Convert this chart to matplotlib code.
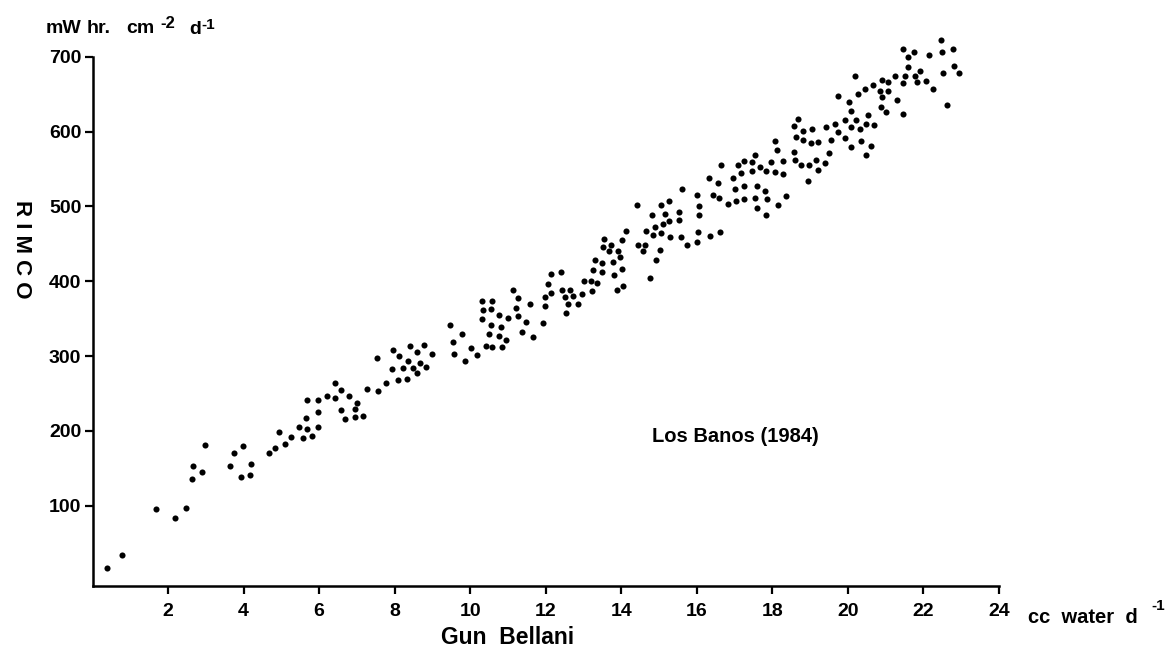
import matplotlib
matplotlib.use("Agg")
import matplotlib.pyplot as plt

plt.rcParams['font.family'] = ['Liberation Sans', 'DejaVu Sans']

# Gun Bellani readings (cc water per day)
gun_bellani = [
    0.38, 0.78, 1.67, 2.18, 2.47, 2.64, 2.66, 2.90, 2.97, 3.63, 3.74, 3.92, 3.99, 4.18, 4.20,
    4.66, 4.84, 4.95, 5.10, 5.25, 5.47, 5.57, 5.66, 5.69, 5.80, 5.97, 5.98, 5.69, 5.96,
    6.20, 6.41, 6.41, 6.58, 6.80, 6.99, 6.59, 6.94, 6.69, 6.96, 7.16, 7.28, 7.56, 7.53, 7.78,
    7.95, 8.12, 7.93, 8.08, 8.21, 8.33, 8.41, 8.36, 8.48, 8.60, 8.66, 8.60, 8.78, 8.83, 8.98,
    9.47, 9.78, 9.55, 9.56, 10.02, 9.85, 10.17, 10.31, 10.57, 10.35, 10.56, 10.32, 10.75, 10.55,
    10.82, 10.49, 10.75, 10.94, 10.41, 10.59, 10.85, 11.01, 11.12, 11.26, 11.20, 11.27, 11.57,
    11.47, 11.38, 11.66, 11.92, 11.99, 11.99, 12.06, 12.15, 12.15, 12.40, 12.44, 12.63, 12.51,
    12.72, 12.59, 12.53, 12.86,
    12.95, 13.02, 13.22, 13.21, 13.26, 13.36, 13.31, 13.48, 13.50, 13.55, 13.52, 13.68, 13.74,
    13.78, 13.80, 13.91, 13.96, 14.01, 13.88, 14.05, 14.03, 14.12, 14.41, 14.43, 14.57, 14.64,
    14.65, 14.77, 14.80, 14.90, 14.92, 14.84, 15.02, 15.05, 15.06, 15.10, 15.15, 15.25, 15.27,
    15.30, 15.52, 15.53, 15.57, 15.60, 15.74, 16.00, 16.05, 16.06, 16.03, 16.01, 16.34, 16.33,
    16.44, 16.57, 16.60, 16.62, 16.64, 16.82, 16.96, 17.02, 17.05, 17.08, 17.17, 17.24, 17.25,
    17.25, 17.47, 17.47, 17.55, 17.60, 17.55, 17.60, 17.67, 17.80, 17.84, 17.87, 17.84, 17.97,
    18.07, 18.12, 18.14, 18.27, 18.27, 18.35, 18.58, 18.59, 18.77, 18.93, 18.97,
    18.06, 18.58, 18.67, 18.62, 18.80, 18.80, 19.01, 19.06, 19.21, 19.16, 19.20, 19.40, 19.49,
    19.43, 19.56, 19.66, 19.74, 19.75, 19.92, 19.92, 20.08, 20.07, 20.03, 20.08, 20.21, 20.18,
    20.31, 20.28, 20.34, 20.44, 20.47, 20.54, 20.60, 20.47, 20.69, 20.66, 20.84, 20.91, 20.89,
    20.87, 21.02, 21.06, 21.07, 21.24, 21.31, 21.46, 21.46, 21.50, 21.47, 21.59, 21.60, 21.76,
    21.77, 21.83, 21.90, 22.08, 22.15, 22.25, 22.47, 22.48, 22.52, 22.63, 22.79, 22.80, 22.94,
]

# RIMCO readings (mW hr cm-2 d-1)
rimco = [
    17, 34, 95, 84, 97, 136, 153, 145, 181, 153, 170, 139, 180, 141, 156,
    171, 177, 198, 182, 192, 205, 190, 217, 203, 193, 205, 225, 241, 241,
    247, 264, 244, 255, 247, 237, 228, 229, 216, 219, 220, 256, 253, 297, 264,
    308, 300, 283, 268, 284, 269, 313, 293, 284, 306, 291, 278, 315, 285, 303,
    342, 329, 319, 303, 311, 293, 302, 373, 374, 361, 363, 350, 355, 341,
    339, 330, 327, 322, 314, 312, 312, 351, 388, 377, 364, 353, 370,
    345, 332, 326, 344, 367, 379, 396, 410, 384, 412, 388, 389, 379,
    380, 369, 358, 369,
    383, 401, 387, 400, 415, 398, 428, 412, 424, 456, 446, 440, 449,
    426, 408, 441, 433, 417, 389, 394, 455, 467, 502, 449, 440, 448,
    467, 405, 489, 472, 428, 462, 442, 502, 465, 476, 490, 481, 507,
    459, 492, 482, 459, 523, 449, 516, 501, 488, 466, 453, 460, 538,
    516, 531, 512, 466, 555, 503, 538, 523, 507, 555, 545, 510, 527,
    561, 559, 548, 569, 527, 512, 498, 553, 521, 547, 510, 488, 560,
    546, 575, 502, 561, 543, 514, 573, 562, 556, 534, 556,
    587, 607, 617, 593, 601, 589, 585, 604, 586, 562, 549, 558, 572,
    606, 589, 610, 648, 599, 591, 616, 606, 580, 640, 628, 615, 675,
    603, 650, 587, 657, 610, 622, 581, 569, 609, 662, 655, 646, 669,
    633, 626, 655, 667, 675, 643, 623, 711, 675, 665, 700, 686, 707,
    675, 666, 681, 668, 703, 657, 723, 706, 679, 636, 710, 688, 678,
]

x_ticks = [2, 4, 6, 8, 10, 12, 14, 16, 18, 20, 22, 24]
y_ticks = [100, 200, 300, 400, 500, 600, 700]
x_label = "Gun  Bellani"
x_unit = "cc  water  d"
y_label = "R I M C O"
site_label = "Los Banos (1984)"

W, H = 1175, 655
fig = plt.figure(figsize=(W / 100, H / 100), dpi=100)


def fx(px):
    return px / W


def fy(py):
    return 1 - py / H


ax = fig.add_axes([fx(92.5), fy(586), (999 - 92.5) / W, (586 - 56.9) / H])
ax.plot(gun_bellani, rimco, 'o', color='black', markersize=4.4,
        markeredgewidth=0, clip_on=False)
ax.set_xlim(0, 24)
ax.set_ylim(-7.4, 700)

for side in ('top', 'right'):
    ax.spines[side].set_visible(False)
for side in ('left', 'bottom'):
    ax.spines[side].set_linewidth(1.8)
    ax.spines[side].set_color('black')

ax.set_xticks(x_ticks)
ax.set_yticks(y_ticks)
ax.set_xticklabels([str(t) for t in x_ticks])
ax.set_yticklabels([str(t) for t in y_ticks])
ax.tick_params(axis='both', direction='out', length=6, width=1.6,
               labelsize=14, colors='black')
ax.tick_params(axis='x', pad=6)
ax.tick_params(axis='y', pad=2)
for lbl in ax.get_xticklabels() + ax.get_yticklabels():
    lbl.set_fontweight('bold')

# axis titles
fig.text(fx(508), fy(637), x_label, fontsize=16.5, fontweight='bold',
         ha='center', va='center')
fig.text(fx(21), fy(249), y_label, fontsize=16, fontweight='bold',
         rotation=-90, ha='center', va='center')

# x unit after the last tick label
fig.text(fx(1028), fy(623), x_unit, fontsize=14.5, fontweight='bold',
         ha='left', va='baseline')
fig.text(fx(1151), fy(610), "-1", fontsize=11, fontweight='bold',
         ha='left', va='baseline')

# y unit header
fig.text(fx(46), fy(33), "mW", fontsize=14, fontweight='bold', ha='left', va='baseline')
fig.text(fx(87), fy(33), "hr.", fontsize=14, fontweight='bold', ha='left', va='baseline')
fig.text(fx(126), fy(33), "cm", fontsize=14, fontweight='bold', ha='left', va='baseline')
fig.text(fx(160), fy(28), "-2", fontsize=12, fontweight='bold', ha='left', va='baseline')
fig.text(fx(189), fy(34), "d", fontsize=14, fontweight='bold', ha='left', va='baseline')
fig.text(fx(201), fy(29), "-1", fontsize=11, fontweight='bold', ha='left', va='baseline')

# site annotation
fig.text(fx(652), fy(442), site_label, fontsize=14.5, fontweight='bold',
         ha='left', va='baseline')

fig.savefig("out.png", dpi=100, facecolor='white')
